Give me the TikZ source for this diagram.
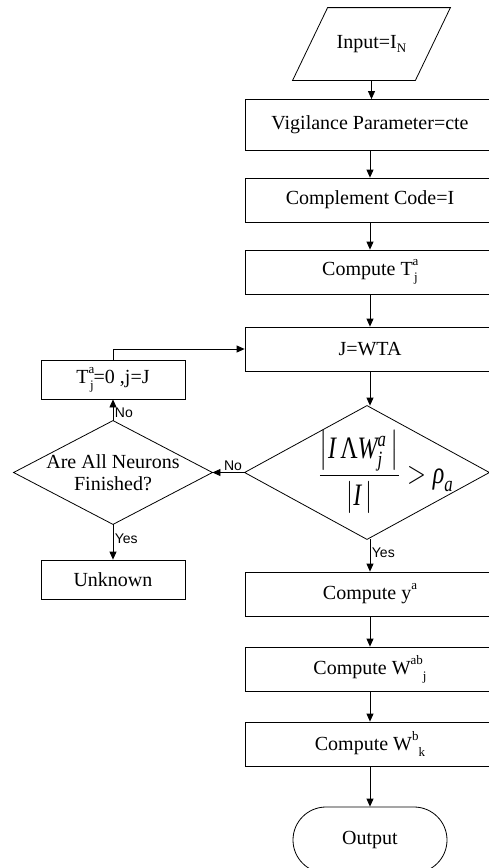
\documentclass[tikz,border=0pt]{standalone}
\usepackage{fontspec}
\usepackage{amsmath}
\usepackage{graphicx}
\setmainfont{Liberation Serif}
\newfontfamily\labelfont{Liberation Sans}
\usetikzlibrary{arrows.meta,calc}

% small indices for the box texts
\newcommand\idxfont{\fontsize{13}{13}\selectfont}
\newcommand\supsub[2]{\rlap{\raisebox{0.5em}{\idxfont #1}}\hspace{1.5pt}\raisebox{-0.3em}{\idxfont #2}}
\newcommand\supthensub[2]{\raisebox{0.5em}{\idxfont #1}\raisebox{-0.3em}{\idxfont #2}}
\newcommand\suponly[1]{\raisebox{0.5em}{\idxfont #1}}

\tikzset{
  base/.style={font=\fontsize{20}{22}\selectfont, inner sep=0pt, line width=0.8pt},
  procbox/.style={base, draw, rectangle, minimum width=#1},
  procbox/.default=250,
  hidden/.style={base, rectangle, draw=none},
  terminal/.style={base, draw, rectangle, rounded corners=33pt, minimum width=154, minimum height=66},
  arr/.style={line width=0.8pt, -{Triangle[length=8pt,width=7pt]}},
  lbl/.style={font=\labelfont\fontsize{14}{15}\selectfont, inner sep=1.5pt},
  outline/.style={line width=0.8pt}
}

\begin{document}
\begin{tikzpicture}[x=1pt,y=-1pt]
  \useasboundingbox (0,0) rectangle (489,868);
  \clip (0,0) rectangle (489,868);

  % main column
  \node[hidden, minimum width=122, minimum height=72] (in) at (371.5,44)
    {Input=I\raisebox{-0.2em}{\idxfont N}};
  \draw[outline] ([xshift=17.5]in.north west) -- ([xshift=17.5]in.north east)
                -- ([xshift=-17.5]in.south east) -- ([xshift=-17.5]in.south west) -- cycle;

  \node[procbox, minimum height=51] (vig) at (370,125) {Vigilance Parameter=cte};
  \node[procbox, minimum height=44] (comp) at (370,200) {Complement Code=I};
  \node[procbox, minimum height=44] (tj) at (370,272) {Compute T\supsub{a}{j}};
  \node[procbox, minimum height=44] (wta) at (370,349) {J=WTA};

  \node[hidden, minimum width=244, minimum height=133] (dia) at (367,472.5)
    {\hspace*{38pt}\raisebox{-4pt}{\scalebox{1}[1.3]{\fontsize{24}{26}\selectfont
      $\dfrac{\left|\textit{I}\,\text{Λ}\textit{W}^{\textit{a}}_{\textit{j}}\,\right|}{\left|\textit{I}\,\right|} > \textit{ρ}_{\textit{a}}$}}};
  \draw[outline] (dia.north) -- (dia.east) -- (dia.south) -- (dia.west) -- cycle;

  \node[procbox, minimum height=44] (ya) at (370,594) {Compute y\suponly{a}};
  \node[procbox, minimum height=44] (wab) at (370,669) {Compute W\supthensub{ab}{j}};
  \node[procbox, minimum height=44] (wbk) at (370,744) {Compute W\supthensub{b}{k}};
  \node[terminal] (out) at (370,840) {Output};

  % side branch
  \node[procbox=144, minimum height=39] (reset) at (113,379.5) {T\supsub{a}{j}=0 ,j=J};
  \node[hidden, minimum width=198, minimum height=103, align=center] (ldia) at (113,472.5)
    {Are All Neurons\\Finished?};
  \draw[outline] (ldia.north) -- (ldia.east) -- (ldia.south) -- (ldia.west) -- cycle;
  \node[procbox=144, minimum height=39] (unk) at (113,579.5) {Unknown};

  % connectors
  \draw[arr] (in.south) -- (in.south |- vig.north);
  \draw[arr] (vig) -- (comp);
  \draw[arr] (comp) -- (tj);
  \draw[arr] (tj) -- (wta);
  \draw[arr] (wta.south) -- (wta.south |- dia.north);
  \draw[arr] (dia.south -| ya.north) -- node[lbl, right, pos=0.42] {Yes} (ya.north);
  \draw[arr] (ya) -- (wab);
  \draw[arr] (wab) -- (wbk);
  \draw[arr] (wbk) -- (out);

  \draw[arr] (dia.west) -- node[lbl, above, pos=0.36] {No} (ldia.east);
  \draw[arr] (ldia.north) -- node[lbl, right, pos=0.36] {No} (reset.south);
  \draw[arr] (ldia.south) -- node[lbl, right, pos=0.42] {Yes} (unk.north);
  \draw[arr] (reset.north) |- (wta.west);
\end{tikzpicture}
\end{document}
